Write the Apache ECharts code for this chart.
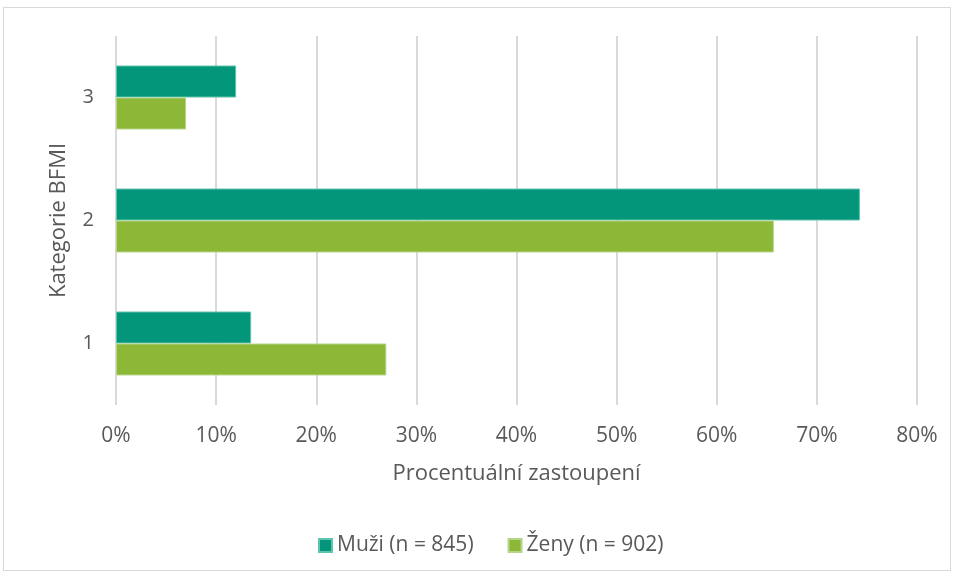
<!DOCTYPE html>
<html><head><meta charset="utf-8">
<script src="https://cdn.jsdelivr.net/npm/echarts@6/dist/echarts.min.js"></script>
<style>html,body{margin:0;padding:0;background:#fff}#c{width:955px;height:577px}
#frame{position:absolute;left:3px;top:7px;width:948px;height:564px;border:1px solid #d9d9d9;box-sizing:border-box;pointer-events:none}</style>
</head><body><div id="c"></div><div id="frame"></div>
<script>
const categories = ['1', '2', '3'];
const muzi = [13.5, 74.3, 12.0];
const zeny = [27.0, 65.7, 7.0];
const seriesNames = ['Muži (n = 845)', 'Ženy (n = 902)'];
const xTicks = [0, 10, 20, 30, 40, 50, 60, 70, 80];

const font = 'Open Sans, Liberation Sans, sans-serif';
const chart = echarts.init(document.getElementById('c'));
chart.setOption({
  animation: false,
  textStyle: {fontFamily: font, color: '#595959'},
  grid: {left: 116, right: 38, top: 36, bottom: 172, containLabel: false},
  legend: {
    data: seriesNames, bottom: 16, left: 313, itemWidth: 13, itemHeight: 13, itemGap: 34,
    icon: 'rect', textStyle: {fontSize: 21, color: '#595959', fontFamily: font}
  },
  xAxis: {
    type: 'value', min: xTicks[0], max: xTicks[xTicks.length - 1], interval: 10,
    axisLine: {show: false}, axisTick: {show: false},
    axisLabel: {formatter: '{value}%', fontSize: 21, color: '#595959', margin: 21},
    splitLine: {lineStyle: {color: '#d9d9d9', width: 2}},
    name: 'Procentuální zastoupení', nameLocation: 'middle', nameGap: 58,
    nameTextStyle: {fontSize: 22, color: '#595959'}
  },
  yAxis: {
    type: 'category', data: categories,
    axisLine: {show: false}, axisTick: {show: false},
    axisLabel: {fontSize: 20, color: '#595959', margin: 22},
    name: 'Kategorie BFMI', nameLocation: 'middle', nameGap: 46,
    nameTextStyle: {fontSize: 22, color: '#595959'}
  },
  series: [
    {name: seriesNames[0], type: 'bar', data: muzi, barCategoryGap: '48%', barGap: '0%',
     itemStyle: {color: '#03967a', borderColor: '#5fc4ac', borderWidth: 1}},
    {name: seriesNames[1], type: 'bar', data: zeny, barCategoryGap: '48%', barGap: '0%',
     itemStyle: {color: '#8db737', borderColor: '#b5d68a', borderWidth: 1}}
  ]
});
</script></body></html>
